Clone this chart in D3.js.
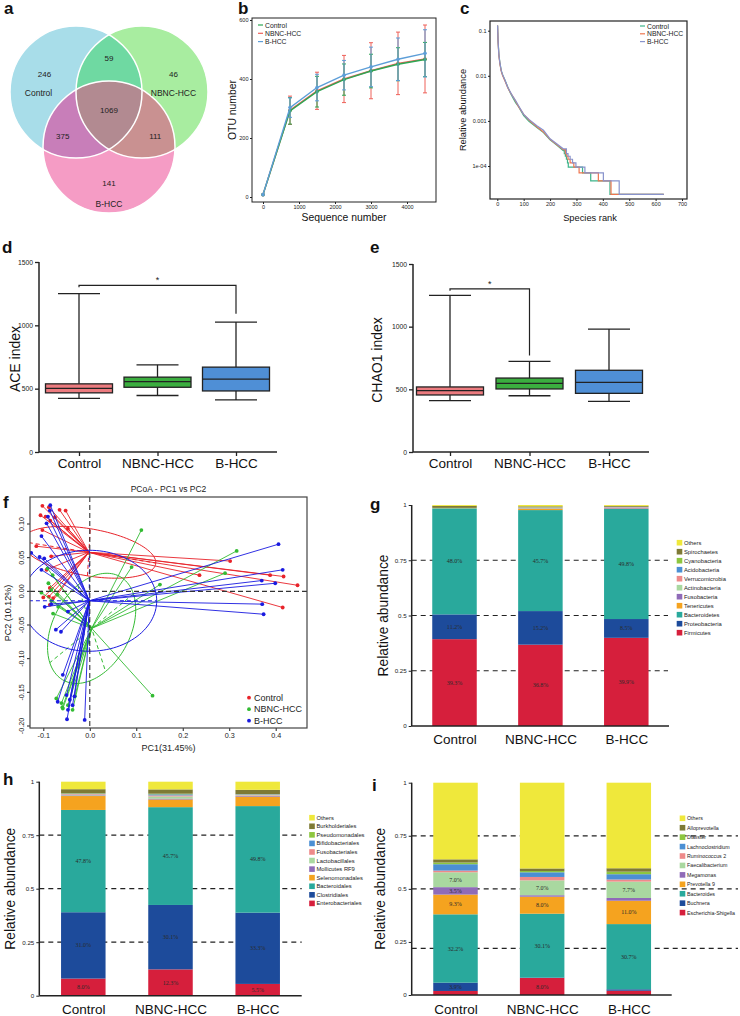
<!DOCTYPE html>
<html>
<head>
<meta charset="utf-8">
<script src="https://cdn.jsdelivr.net/npm/d3@7"></script>
<style>
  body { margin: 0; background: #fff; }
  svg { display: block; }
</style>
</head>
<body>
<svg id="fig" width="740" height="1016"></svg>
<script>
const FONT = '"Liberation Sans", Arial, Helvetica, sans-serif';
const SERIF = '"Liberation Serif", "Times New Roman", serif';

// ---------------- data ----------------
const groups = ["Control", "NBNC-HCC", "B-HCC"];

// a: Venn (Control only, NBNC only, B-HCC only, C&N, C&B, N&B, all three)
const vennValues = [246, 46, 141, 59, 375, 111, 1069];
const vennColors = ["#a8dde9", "#a8eda0", "#f59cc5", "#6fd9a2", "#c87eb9", "#c99191", "#b28a91"];

// b: rarefaction curves
const seqDepth = [0, 750, 1500, 2250, 3000, 3750, 4500];
const otuControl = [8, 292, 357, 398, 427, 450, 466];
const otuControlSd = [0, 45, 52, 53, 57, 56, 58];
const otuNbnc = [8, 294, 360, 400, 428, 453, 468];
const otuNbncSd = [0, 48, 63, 80, 95, 106, 115];
const otuBhcc = [8, 303, 371, 413, 441, 467, 487];
const otuBhccSd = [0, 33, 45, 50, 67, 72, 80];

// c: rank abundance
const rankHead = [1, 3, 6, 10, 15, 20, 30, 40, 50, 60, 70, 80, 100, 120, 150, 175, 200, 225, 250];
const abundControl = [0.13, 0.06, 0.03, 0.019, 0.013, 0.0105, 0.0078, 0.0056, 0.0041, 0.0032, 0.0025, 0.0021, 0.0013, 0.00098, 0.00071, 0.00055, 0.00038, 0.00029, 0.00022];
const abundNbnc = [0.13, 0.055, 0.028, 0.018, 0.0125, 0.0102, 0.0075, 0.0054, 0.0042, 0.0034, 0.0027, 0.0021, 0.0014, 0.00105, 0.00074, 0.00057, 0.00039, 0.0003, 0.00023];
const abundBhcc = [0.13, 0.058, 0.029, 0.019, 0.013, 0.0106, 0.0078, 0.0055, 0.0043, 0.0034, 0.0028, 0.0022, 0.0014, 0.00108, 0.00078, 0.00062, 0.0004, 0.00031, 0.00024];
const singletonAbund = 2.35e-5;
const stepUnits = [8, 7, 6, 5, 4, 3, 2, 1];
const stepRankControl = [254, 258, 262, 266, 269, 323, 354, 427];
const stepRankNbnc = [258, 263, 268, 276, 290, 310, 383, 431];
const stepRankBhcc = [262, 268, 276, 285, 298, 332, 402, 462];
const maxRank = 631;

// d/e: alpha diversity boxes [low whisker, Q1, median, Q3, high whisker]
const aceControl = [424, 467, 503, 538, 1250];
const aceNbnc = [446, 511, 556, 591, 688];
const aceBhcc = [411, 482, 575, 670, 1026];
const aceBracket = [1316, 1300, 1091];
const chaoControl = [410, 455, 489, 519, 1250];
const chaoNbnc = [449, 503, 548, 590, 723];
const chaoBhcc = [404, 468, 556, 652, 981];
const chaoBracket = [1301, 1287, 769];

// f: PCoA sample scores [PC1, PC2]
const pcoaControl = [[-0.102, 0.127], [-0.088, 0.125], [-0.065, 0.121], [-0.052, 0.120], [-0.106, 0.113],
  [-0.095, 0.111], [-0.085, 0.105], [-0.075, 0.110], [-0.047, 0.093], [-0.102, 0.091], [-0.115, 0.067],
  [-0.083, 0.052], [-0.093, 0.032], [-0.086, 0.005], [-0.088, -0.008], [-0.079, -0.010], [-0.086, -0.020],
  [-0.100, -0.009], [0.302, 0.045], [0.236, 0.024], [0.388, 0.024], [0.417, 0.022], [0.447, 0.009], [0.415, -0.024]];
const pcoaNbnc = [[-0.091, 0.034], [-0.080, 0.024], [-0.089, 0.012], [-0.083, 0.002], [-0.070, -0.005],
  [-0.104, -0.002], [-0.083, -0.014], [-0.068, -0.023], [-0.079, -0.033], [-0.072, -0.159], [-0.061, -0.166],
  [-0.059, -0.172], [-0.047, -0.169], [-0.037, -0.176], [-0.032, -0.156], [-0.058, -0.174], [0.111, 0.091],
  [0.316, 0.060], [0.291, 0.027], [0.151, 0.010], [0.135, -0.155], [0.090, 0.036]];
const pcoaBhcc = [[-0.085, 0.128], [-0.086, 0.120], [-0.090, 0.111], [-0.093, 0.101], [-0.104, 0.082],
  [-0.108, 0.051], [-0.098, 0.049], [-0.104, 0.032], [-0.126, 0.057], [-0.097, -0.023], [-0.083, -0.019],
  [-0.073, -0.057], [-0.062, -0.060], [-0.047, -0.030], [-0.058, -0.124], [-0.050, -0.154], [-0.069, -0.164],
  [-0.043, -0.161], [-0.047, -0.176], [-0.049, -0.190], [-0.011, -0.191], [-0.033, -0.156], [-0.037, -0.169],
  [0.406, 0.070], [0.415, 0.032], [0.370, 0.016], [0.399, 0.012], [0.371, -0.019], [0.374, -0.034]];
const pcoaCentroids = [[-0.002, 0.058], [0.004, -0.055], [-0.001, -0.014]];
const ellipseU = [[0.144, -0.016], [-0.090, -0.051], [0.145, 0]];
const ellipseV = [[0.003, 0.035], [0.030, -0.064], [0, 0.075]];

// g: phylum level (bottom to top)
const phylumNames = ["Firmicutes", "Proteobacteria", "Bacteroidetes", "Tenericutes", "Fusobacteria",
  "Actinobacteria", "Verrucomicrobia", "Acidobacteria", "Cyanobacteria", "Spirochaetes", "Others"];
const phylumControl = [0.393, 0.112, 0.480, 0.001, 0, 0.001, 0, 0, 0, 0.009, 0.004];
const phylumNbnc = [0.368, 0.152, 0.457, 0.006, 0.002, 0.002, 0.001, 0.001, 0.001, 0.004, 0.006];
const phylumBhcc = [0.399, 0.085, 0.498, 0.002, 0.003, 0.001, 0.002, 0.001, 0.001, 0.004, 0.004];

// h: order level
const orderNames = ["Enterobacteriales", "Clostridiales", "Bacteroidales", "Selenomonadales", "Mollicutes RF9",
  "Lactobacillales", "Fusobacteriales", "Bifidobacteriales", "Pseudomonadales", "Burkholderiales", "Others"];
const orderControl = [0.080, 0.310, 0.478, 0.065, 0.003, 0.003, 0.003, 0.002, 0.002, 0.019, 0.035];
const orderNbnc = [0.123, 0.301, 0.457, 0.036, 0.004, 0.010, 0.005, 0.005, 0.003, 0.020, 0.036];
const orderBhcc = [0.055, 0.333, 0.498, 0.044, 0.003, 0.003, 0.003, 0.002, 0.001, 0.020, 0.038];

// i: genus level
const genusNames = ["Escherichia-Shigella", "Buchnera", "Bacteroides", "Prevotella 9", "Megamonas",
  "Faecalibacterium", "Ruminococcus 2", "Lachnoclostridium", "Dialister", "Alloprevotella", "Others"];
const genusControl = [0.019, 0.039, 0.322, 0.093, 0.035, 0.070, 0.008, 0.030, 0.008, 0.015, 0.361];
const genusNbnc = [0.080, 0.002, 0.301, 0.080, 0.007, 0.070, 0.016, 0.022, 0.006, 0.012, 0.404];
const genusBhcc = [0.020, 0.007, 0.307, 0.110, 0.013, 0.077, 0.010, 0.025, 0.012, 0.016, 0.403];

const stackColors = ["#d61f3c", "#1d4b9b", "#29a99c", "#f5a31f", "#8f6bb8", "#a9d8a0",
  "#ee8a8a", "#4b8fd4", "#8dc63f", "#7e7a35", "#efe83b"];
const fracTicks = [0, 0.25, 0.5, 0.75, 1];

// ---------------- drawing ----------------
const svg = d3.select("#fig").attr("font-family", FONT);
svg.append("rect").attr("width", 740).attr("height", 1016).attr("fill", "#fff");
const defs = svg.append("defs");

function panelLetter(t, x, y) {
  svg.append("text").attr("x", x).attr("y", y)
    .attr("font-size", 17).attr("font-weight", "bold").attr("fill", "#111").text(t);
}

function styleAxis(sel, size) {
  sel.attr("font-size", size).attr("font-family", FONT);
  sel.selectAll("text").attr("fill", "#222");
  sel.selectAll("line").attr("stroke", "#222");
  sel.select(".domain").remove();
}

function yTitle(text, x, cy, size) {
  svg.append("text")
    .attr("transform", `translate(${x},${cy}) rotate(-90)`)
    .attr("text-anchor", "middle").attr("dominant-baseline", "central")
    .attr("font-size", size).attr("fill", "#111").text(text);
}

// ----- a: Venn diagram -----
function drawVenn() {
  const r = 66;
  const centres = [[76, 92], [142, 92], [109, 147]];
  centres.forEach((c, i) => {
    defs.append("clipPath").attr("id", "venn" + i)
      .append("circle").attr("cx", c[0]).attr("cy", c[1]).attr("r", r);
  });
  const g = svg.append("g");
  centres.forEach((c, i) => {
    g.append("circle").attr("cx", c[0]).attr("cy", c[1]).attr("r", r).attr("fill", vennColors[i]);
  });
  const pairs = [[0, 1], [0, 2], [1, 2]];
  pairs.forEach((p, k) => {
    g.append("g").attr("clip-path", `url(#venn${p[0]})`)
      .append("circle").attr("cx", centres[p[1]][0]).attr("cy", centres[p[1]][1]).attr("r", r)
      .attr("fill", vennColors[3 + k]);
  });
  g.append("g").attr("clip-path", "url(#venn0)")
    .append("g").attr("clip-path", "url(#venn1)")
    .append("circle").attr("cx", centres[2][0]).attr("cy", centres[2][1]).attr("r", r)
    .attr("fill", vennColors[6]);
  centres.forEach(c => {
    g.append("circle").attr("cx", c[0]).attr("cy", c[1]).attr("r", r)
      .attr("fill", "none").attr("stroke", "#fff").attr("stroke-width", 1.5);
  });

  // label positions from the circle geometry
  const G = [d3.mean(centres, c => c[0]), d3.mean(centres, c => c[1])];
  const unit = (a, b) => { const dx = a[0] - b[0], dy = a[1] - b[1], l = Math.hypot(dx, dy); return [dx / l, dy / l]; };
  const pos = [];
  centres.forEach(c => { const u = unit(c, G); pos.push([c[0] + u[0] * 36, c[1] + u[1] * 36]); });
  pairs.forEach(p => {
    const other = centres[3 - p[0] - p[1]];
    const m = [(centres[p[0]][0] + centres[p[1]][0]) / 2, (centres[p[0]][1] + centres[p[1]][1]) / 2];
    const u = unit(m, other);
    pos.push([m[0] + u[0] * 34, m[1] + u[1] * 34]);
  });
  pos.push(G);
  vennValues.forEach((v, i) => {
    g.append("text").attr("x", pos[i][0]).attr("y", pos[i][1])
      .attr("text-anchor", "middle").attr("dominant-baseline", "central")
      .attr("font-size", 8).attr("fill", "#222").text(v);
  });
  groups.forEach((name, i) => {
    g.append("text").attr("x", pos[i][0] + (i === 0 ? -6 : 0)).attr("y", pos[i][1] + (i === 2 ? 21 : 18))
      .attr("text-anchor", "middle").attr("dominant-baseline", "central")
      .attr("font-size", 8.5).attr("fill", "#222").text(name);
  });
  panelLetter("a", 4, 14);
}

// ----- b: rarefaction -----
function drawRarefaction() {
  const x = d3.scaleLinear().domain([0, 4000]).range([263, 407]);
  const y = d3.scaleLinear().domain([0, 600]).range([197, 20]);
  const g = svg.append("g");
  const ya = g.append("g").attr("transform", "translate(252,0)")
    .call(d3.axisLeft(y).tickValues([0, 200, 400, 600]).tickFormat(d => String(d)).tickSize(2).tickPadding(1.5));
  styleAxis(ya, 5.5);
  const xa = g.append("g").attr("transform", "translate(0,202)")
    .call(d3.axisBottom(x).tickValues([0, 1000, 2000, 3000, 4000]).tickFormat(d => String(d)).tickSize(2).tickPadding(1.5));
  styleAxis(xa, 5.5);
  g.append("rect").attr("x", 252).attr("y", 18).attr("width", 184).attr("height", 184)
    .attr("fill", "none").attr("stroke", "#222").attr("stroke-width", 1);

  const series = [
    { name: "NBNC-HCC", mean: otuNbnc, sd: otuNbncSd, color: "#ee6058" },
    { name: "Control", mean: otuControl, sd: otuControlSd, color: "#2da653" },
    { name: "B-HCC", mean: otuBhcc, sd: otuBhccSd, color: "#5d9ed8" }
  ];
  const line = d3.line().x(d => x(d[0])).y(d => y(d[1]));
  series.forEach(s => {
    const pts = seqDepth.map((d, i) => [d, s.mean[i], s.sd[i]]);
    const sg = g.append("g");
    pts.filter(p => p[2] > 0).forEach(p => {
      sg.append("line").attr("x1", x(p[0])).attr("x2", x(p[0]))
        .attr("y1", y(p[1] - p[2])).attr("y2", y(p[1] + p[2]))
        .attr("stroke", s.color).attr("stroke-width", 1);
      [p[1] - p[2], p[1] + p[2]].forEach(v => {
        sg.append("line").attr("x1", x(p[0]) - 2).attr("x2", x(p[0]) + 2)
          .attr("y1", y(v)).attr("y2", y(v)).attr("stroke", s.color).attr("stroke-width", 1);
      });
    });
    sg.append("path").datum(pts).attr("d", line).attr("fill", "none")
      .attr("stroke", s.color).attr("stroke-width", 1.4);
    sg.selectAll("circle").data(pts).join("circle")
      .attr("cx", d => x(d[0])).attr("cy", d => y(d[1])).attr("r", 1.8).attr("fill", s.color);
  });

  const legend = [["Control", "#2da653"], ["NBNC-HCC", "#ee6058"], ["B-HCC", "#5d9ed8"]];
  legend.forEach((l, i) => {
    const ly = 25 + i * 8.3;
    g.append("line").attr("x1", 258).attr("x2", 263).attr("y1", ly).attr("y2", ly)
      .attr("stroke", l[1]).attr("stroke-width", 1.2);
    g.append("text").attr("x", 265).attr("y", ly).attr("dominant-baseline", "central")
      .attr("font-size", 6.8).attr("fill", "#222").text(l[0]);
  });
  yTitle("OTU number", 232, 110, 10.4);
  g.append("text").attr("x", 344).attr("y", 221).attr("text-anchor", "middle")
    .attr("font-size", 10.4).attr("fill", "#111").text("Sequence number");
  panelLetter("b", 238, 14);
}

// ----- c: rank abundance -----
function drawRankAbundance() {
  const x = d3.scaleLinear().domain([0, 700]).range([497.3, 682]);
  const y = d3.scaleLog().domain([1e-4, 0.1]).range([166, 30.7]);
  const g = svg.append("g");
  const ya = g.append("g").attr("transform", "translate(490,0)")
    .call(d3.axisLeft(y).tickValues([0.1, 0.01, 0.001, 1e-4])
      .tickFormat(d => d === 1e-4 ? "1e-04" : String(d)).tickSize(2).tickPadding(1.5));
  styleAxis(ya, 5.5);
  const xa = g.append("g").attr("transform", "translate(0,199)")
    .call(d3.axisBottom(x).tickValues(d3.range(0, 701, 100)).tickFormat(d => String(d)).tickSize(2).tickPadding(1.5));
  styleAxis(xa, 5.5);

  const series = [
    { head: abundControl, steps: stepRankControl, color: "#3db48a", name: "Control" },
    { head: abundNbnc, steps: stepRankNbnc, color: "#ef7650", name: "NBNC-HCC" },
    { head: abundBhcc, steps: stepRankBhcc, color: "#8893cc", name: "B-HCC" }
  ];
  const line = d3.line().x(d => x(d[0])).y(d => y(d[1]));
  series.forEach(s => {
    const pts = rankHead.map((r, i) => [r, s.head[i]]);
    let prev = s.head[s.head.length - 1];
    s.steps.forEach((r, i) => {
      const lvl = stepUnits[i] * singletonAbund;
      pts.push([r, prev], [r, lvl]);
      prev = lvl;
    });
    pts.push([maxRank, prev]);
    g.append("path").datum(pts).attr("d", line).attr("fill", "none")
      .attr("stroke", s.color).attr("stroke-width", 1.2);
  });
  g.append("rect").attr("x", 490).attr("y", 21).attr("width", 197).attr("height", 178)
    .attr("fill", "none").attr("stroke", "#222").attr("stroke-width", 1.2);
  series.forEach((s, i) => {
    const ly = 26 + i * 7.8;
    g.append("line").attr("x1", 640).attr("x2", 645).attr("y1", ly).attr("y2", ly)
      .attr("stroke", s.color).attr("stroke-width", 1.2);
    g.append("text").attr("x", 647).attr("y", ly).attr("dominant-baseline", "central")
      .attr("font-size", 6.8).attr("fill", "#222").text(s.name);
  });
  yTitle("Relative abundance", 463, 110, 9.3);
  g.append("text").attr("x", 590).attr("y", 221).attr("text-anchor", "middle")
    .attr("font-size", 9.3).attr("fill", "#111").text("Species rank");
  panelLetter("c", 460, 14);
}

// ----- d/e: box plots -----
function drawBoxPanel(o) {
  const x = d3.scalePoint().domain(groups).range(o.centres);
  const y = d3.scaleLinear().domain([0, 1500]).range(o.yRange);
  const colors = ["#ec7b7f", "#3bae3f", "#4f8fd6"];
  const g = svg.append("g");
  const ya = g.append("g").attr("transform", `translate(${o.axisX},0)`)
    .call(d3.axisLeft(y).tickValues([0, 500, 1000, 1500]).tickFormat(d => String(d)).tickSize(4).tickPadding(2));
  styleAxis(ya, 6.8);
  ya.selectAll("line").attr("stroke-width", 1.3);
  const xa = g.append("g").attr("transform", `translate(0,${y(0)})`)
    .call(d3.axisBottom(x).tickSize(4).tickPadding(2));
  styleAxis(xa, 13.5);
  xa.selectAll("line").attr("stroke-width", 1.3);
  xa.selectAll("text").attr("fill", "#111");
  g.append("line").attr("x1", o.axisX).attr("x2", o.axisX).attr("y1", y(1500)).attr("y2", y(0))
    .attr("stroke", "#222").attr("stroke-width", 1.5);
  g.append("line").attr("x1", o.axisX).attr("x2", o.axisEnd).attr("y1", y(0)).attr("y2", y(0))
    .attr("stroke", "#222").attr("stroke-width", 1.5);

  const bw = 67, cap = 42;
  o.stats.forEach((s, i) => {
    const cx = x(groups[i]);
    const bg = g.append("g").attr("stroke", "#222").attr("stroke-width", 1.3);
    bg.append("line").attr("x1", cx).attr("x2", cx).attr("y1", y(s[4])).attr("y2", y(s[3]));
    bg.append("line").attr("x1", cx).attr("x2", cx).attr("y1", y(s[1])).attr("y2", y(s[0]));
    [s[0], s[4]].forEach(v => bg.append("line").attr("x1", cx - cap / 2).attr("x2", cx + cap / 2)
      .attr("y1", y(v)).attr("y2", y(v)));
    bg.append("rect").attr("x", cx - bw / 2).attr("y", y(s[3])).attr("width", bw)
      .attr("height", y(s[1]) - y(s[3])).attr("fill", colors[i]);
    bg.append("line").attr("x1", cx - bw / 2).attr("x2", cx + bw / 2).attr("y1", y(s[2])).attr("y2", y(s[2]));
  });

  // significance bracket
  const x1 = x(o.sig[0]), x2 = x(o.sig[1]);
  g.append("path")
    .attr("d", `M${x1},${y(o.bracket[1])}V${y(o.bracket[0])}H${x2}V${y(o.bracket[2])}`)
    .attr("fill", "none").attr("stroke", "#222").attr("stroke-width", 1.2);
  g.append("text").attr("x", (x1 + x2) / 2).attr("y", y(o.bracket[0]) - 2)
    .attr("text-anchor", "middle").attr("font-size", 9).attr("fill", "#222").text("*");
  yTitle(o.label, o.labelX, (y(0) + y(1500)) / 2 + 2, 14);
}

// ----- f: PCoA -----
function drawPcoa() {
  const x = d3.scaleLinear().domain([-0.1, 0.4]).range([43.3, 275.7]);
  const y = d3.scaleLinear().domain([-0.2, 0.1]).range([726, 524]);
  const frame = { x0: 30, x1: 307, y0: 497, y1: 728 };
  defs.append("clipPath").attr("id", "pcoaClip").append("rect")
    .attr("x", frame.x0).attr("y", frame.y0).attr("width", frame.x1 - frame.x0).attr("height", frame.y1 - frame.y0);
  const g = svg.append("g");
  const xa = g.append("g").attr("transform", `translate(0,${frame.y1})`)
    .call(d3.axisBottom(x).tickValues([-0.1, 0, 0.1, 0.2, 0.3, 0.4]).tickFormat(d => d.toFixed(1)).tickSize(3).tickPadding(1.5));
  styleAxis(xa, 7.2);
  const ya = g.append("g").attr("transform", `translate(${frame.x0},0)`)
    .call(d3.axisLeft(y).tickValues([-0.2, -0.15, -0.1, -0.05, 0, 0.05, 0.1]).tickFormat(d => d.toFixed(2)).tickSize(3).tickPadding(2));
  styleAxis(ya, 7.2);
  ya.selectAll("text").attr("transform", "rotate(-90)").attr("text-anchor", "middle")
    .attr("x", 0).attr("y", -6).attr("dy", "0")
    .each(function (d) { d3.select(this).attr("transform", `translate(-6,${y(d)}) rotate(-90)`).attr("y", 0); });
  ya.selectAll(".tick").attr("transform", null);
  ya.selectAll(".tick line").attr("y1", d => y(d)).attr("y2", d => y(d));

  const plot = g.append("g").attr("clip-path", "url(#pcoaClip)");
  const colors = ["#e8232a", "#33bb33", "#1a1ae0"];
  const sets = [pcoaControl, pcoaNbnc, pcoaBhcc];
  sets.forEach((pts, i) => {
    const c = pcoaCentroids[i], u = ellipseU[i], v = ellipseV[i];
    const ell = d3.range(0, 2 * Math.PI, Math.PI / 60).map(t =>
      [c[0] + u[0] * Math.cos(t) + v[0] * Math.sin(t), c[1] + u[1] * Math.cos(t) + v[1] * Math.sin(t)]);
    plot.append("path").datum(ell)
      .attr("d", d3.line().x(d => x(d[0])).y(d => y(d[1])).curve(d3.curveLinearClosed))
      .attr("fill", "none").attr("stroke", colors[i]).attr("stroke-width", 1);
    [u, v].forEach(a => {
      plot.append("line").attr("x1", x(c[0] - a[0])).attr("y1", y(c[1] - a[1]))
        .attr("x2", x(c[0] + a[0])).attr("y2", y(c[1] + a[1]))
        .attr("stroke", colors[i]).attr("stroke-width", 1).attr("stroke-dasharray", "4,3");
    });
    plot.append("g").selectAll("line").data(pts).join("line")
      .attr("x1", x(c[0])).attr("y1", y(c[1]))
      .attr("x2", d => x(d[0])).attr("y2", d => y(d[1]))
      .attr("stroke", colors[i]).attr("stroke-width", 0.9);
    plot.append("g").selectAll("circle").data(pts).join("circle")
      .attr("cx", d => x(d[0])).attr("cy", d => y(d[1])).attr("r", 1.9).attr("fill", colors[i]);
  });
  plot.append("line").attr("x1", x(0)).attr("x2", x(0)).attr("y1", frame.y0).attr("y2", frame.y1)
    .attr("stroke", "#333").attr("stroke-width", 1.1).attr("stroke-dasharray", "5,3");
  plot.append("line").attr("x1", frame.x0).attr("x2", frame.x1).attr("y1", y(0)).attr("y2", y(0))
    .attr("stroke", "#333").attr("stroke-width", 1.1).attr("stroke-dasharray", "5,3");
  g.append("rect").attr("x", frame.x0).attr("y", frame.y0).attr("width", frame.x1 - frame.x0)
    .attr("height", frame.y1 - frame.y0).attr("fill", "none").attr("stroke", "#444").attr("stroke-width", 1.2);

  groups.forEach((name, i) => {
    const ly = 697.7 + i * 11.5;
    g.append("circle").attr("cx", 249).attr("cy", ly).attr("r", 1.9).attr("fill", colors[i]);
    g.append("text").attr("x", 254).attr("y", ly).attr("dominant-baseline", "central")
      .attr("font-size", 9).attr("fill", "#222").text(name);
  });
  g.append("text").attr("x", 168.5).attr("y", 492).attr("text-anchor", "middle")
    .attr("font-size", 8.5).attr("fill", "#222").text("PCoA - PC1 vs PC2");
  g.append("text").attr("x", 168.5).attr("y", 751).attr("text-anchor", "middle")
    .attr("font-size", 9).attr("fill", "#222").text("PC1(31.45%)");
  yTitle("PC2 (10.12%)", 8, 613, 9);
  panelLetter("f", 3, 508);
}

// ----- g/h/i: stacked bars -----
function drawStackPanel(o) {
  const x = d3.scalePoint().domain(groups).range(o.centres);
  const y = d3.scaleLinear().domain([0, 1]).range(o.yRange);
  const keys = d3.range(o.names.length);
  const rows = groups.map((name, gi) => {
    const row = { group: name };
    keys.forEach(k => { row[k] = o.values[gi][k]; });
    return row;
  });
  const series = d3.stack().keys(keys)(rows);
  const g = svg.append("g");

  o.dashLevels.forEach(l => {
    g.append("line").attr("x1", o.axisX).attr("x2", o.dashEnd).attr("y1", y(l)).attr("y2", y(l))
      .attr("stroke", "#222").attr("stroke-width", 1.2).attr("stroke-dasharray", "5,4");
  });

  const bw = 44.5;
  series.forEach(s => {
    g.append("g").selectAll("rect").data(s).join("rect")
      .attr("x", d => x(d.data.group) - bw / 2).attr("y", d => y(d[1]))
      .attr("width", bw).attr("height", d => Math.max(0, y(d[0]) - y(d[1])))
      .attr("fill", stackColors[s.key]);
  });
  series.filter(s => s.key < o.labelCount).forEach(s => {
    g.append("g").selectAll("text").data(s.filter(d => d[1] - d[0] >= 0.03)).join("text")
      .attr("x", d => x(d.data.group)).attr("y", d => y((d[0] + d[1]) / 2))
      .attr("text-anchor", "middle").attr("dominant-baseline", "central")
      .attr("font-family", SERIF).attr("font-size", 6).attr("fill", "#2b2b2b")
      .text(d => ((d[1] - d[0]) * 100).toFixed(1) + "%");
  });

  const ya = g.append("g").attr("transform", `translate(${o.axisX},0)`)
    .call(d3.axisLeft(y).tickValues(fracTicks).tickFormat(d => String(d)).tickSize(3).tickPadding(2));
  styleAxis(ya, 6.2);
  g.append("line").attr("x1", o.axisX).attr("x2", o.axisX).attr("y1", y(1)).attr("y2", y(0))
    .attr("stroke", "#222").attr("stroke-width", 1.5);
  g.append("line").attr("x1", o.axisX).attr("x2", o.axisEnd).attr("y1", y(0)).attr("y2", y(0))
    .attr("stroke", "#222").attr("stroke-width", 1.5);
  const xa = g.append("g").attr("transform", `translate(0,${y(0)})`)
    .call(d3.axisBottom(x).tickSize(0).tickPadding(o.labelPad));
  styleAxis(xa, 13.5);
  xa.selectAll("text").attr("fill", "#111");

  keys.slice().reverse().forEach((k, j) => {
    const ly = o.legendY + j * o.legendStep;
    g.append("rect").attr("x", o.legendX - 2.8).attr("y", ly - 2.8).attr("width", 5.6).attr("height", 5.6)
      .attr("fill", stackColors[k]);
    g.append("text").attr("x", o.legendX + 4.5).attr("y", ly).attr("dominant-baseline", "central")
      .attr("font-size", o.legendFont).attr("fill", "#222").text(o.names[k]);
  });
  yTitle("Relative abundance", o.titleX, (y(0) + y(1)) / 2, 13.8);
}

drawVenn();
drawRarefaction();
drawRankAbundance();

drawBoxPanel({ centres: [79, 236], yRange: [452, 262], axisX: 39, axisEnd: 277,
  stats: [aceControl, aceNbnc, aceBhcc], sig: ["Control", "B-HCC"], bracket: aceBracket,
  label: "ACE index", labelX: 15 });
panelLetter("d", 2, 253);
drawBoxPanel({ centres: [450, 609], yRange: [452, 264], axisX: 413, axisEnd: 649,
  stats: [chaoControl, chaoNbnc, chaoBhcc], sig: ["Control", "NBNC-HCC"], bracket: chaoBracket,
  label: "CHAO1 index", labelX: 377 });
panelLetter("e", 370, 253);

drawPcoa();

drawStackPanel({ names: phylumNames, values: [phylumControl, phylumNbnc, phylumBhcc], labelCount: 3,
  centres: [454.5, 626.3], yRange: [726, 505], axisX: 411.7, axisEnd: 669, dashEnd: 668,
  dashLevels: [0.25, 0.5, 0.75], legendX: 679.5, legendY: 542.7, legendStep: 9, titleX: 383, labelPad: 8,
  legendFont: 5.8 });
panelLetter("g", 370, 510);

drawStackPanel({ names: orderNames, values: [orderControl, orderNbnc, orderBhcc], labelCount: 3,
  centres: [83.3, 257.7], yRange: [995.7, 781.7], axisX: 39.3, axisEnd: 301.7, dashEnd: 301.7,
  dashLevels: [0.25, 0.5, 0.75], legendX: 312, legendY: 817.7, legendStep: 8.57, titleX: 10, labelPad: 9,
  legendFont: 5.8 });
panelLetter("h", 3, 785);

drawStackPanel({ names: genusNames, values: [genusControl, genusNbnc, genusBhcc], labelCount: 6,
  centres: [455.5, 628.8], yRange: [995, 782.7], axisX: 411.7, axisEnd: 671.7, dashEnd: 738,
  dashLevels: [0.22, 0.5, 0.75], legendX: 682.5, legendY: 818.3, legendStep: 9.43, titleX: 380, labelPad: 9,
  legendFont: 5.3 });
panelLetter("i", 372, 791);
</script>
</body>
</html>
